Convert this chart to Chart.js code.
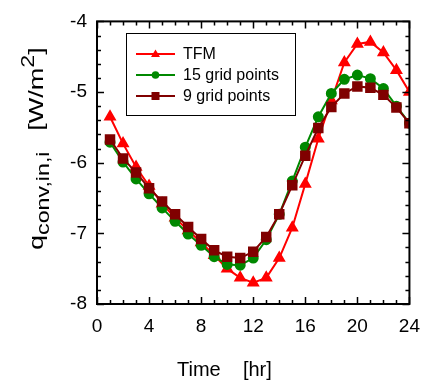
<!DOCTYPE html>
<html>
<head>
<meta charset="utf-8">
<script src="https://cdn.jsdelivr.net/npm/chart.js@4/dist/chart.umd.min.js"></script>
<style>
  body { margin: 0; background: #fff; }
  #wrap { width: 431px; height: 381px; }
</style>
</head>
<body>
<div id="wrap"><canvas id="myChart" width="431" height="381"></canvas></div>
<script>
// hours of the day
var hours = [1,2,3,4,5,6,7,8,9,10,11,12,13,14,15,16,17,18,19,20,21,22,23,24];
// series
var tfm = [-5.35,-5.73,-6.06,-6.33,-6.58,-6.78,-6.96,-7.13,-7.31,-7.50,-7.63,-7.70,
           -7.63,-7.35,-6.92,-6.30,-5.66,-5.12,-4.58,-4.32,-4.29,-4.44,-4.69,-5.00];
var grid15 = [-5.71,-5.99,-6.23,-6.44,-6.64,-6.83,-7.01,-7.17,-7.33,-7.44,-7.45,-7.35,
              -7.09,-6.73,-6.26,-5.78,-5.35,-5.02,-4.82,-4.76,-4.81,-4.95,-5.20,-5.44];
var grid9 = [-5.67,-5.94,-6.14,-6.36,-6.55,-6.73,-6.91,-7.08,-7.24,-7.33,-7.35,-7.26,
             -7.05,-6.73,-6.32,-5.90,-5.51,-5.21,-5.02,-4.92,-4.94,-5.04,-5.22,-5.44];
var seriesNames = ['TFM', '15 grid points', '9 grid points'];
var xTicks = [0, 4, 8, 12, 16, 20, 24];
var yTicks = [-8, -7, -6, -5, -4];

var FONT = "'Liberation Sans', Arial, sans-serif";

function pts(vals) {
    return hours.map(function(h, i) { return {x: h, y: vals[i]}; });
}

// ticks on all four sides, pointing in, plus the frame
var frameTicks = {
    id: 'frameTicks',
    afterDraw: function(chart) {
        var ctx = chart.ctx, a = chart.chartArea;
        var xs = chart.scales.x, ys = chart.scales.y;
        ctx.save();
        ctx.strokeStyle = '#000';
        ctx.lineWidth = 1.5;
        ctx.beginPath();
        for (var h = 0; h <= 24; h++) {
            var px = Math.round(xs.getPixelForValue(h)) + 0.5;
            var len = (h % 4 === 0) ? 7 : 4;
            ctx.moveTo(px, a.bottom); ctx.lineTo(px, a.bottom - len);
            ctx.moveTo(px, a.top); ctx.lineTo(px, a.top + len);
        }
        for (var k = 0; k <= 20; k++) {
            var v = -8 + k * 0.2;
            var py = Math.round(ys.getPixelForValue(v)) + 0.5;
            var l2 = (k % 5 === 0) ? 7 : 4;
            ctx.moveTo(a.left, py); ctx.lineTo(a.left + l2, py);
            ctx.moveTo(a.right, py); ctx.lineTo(a.right - l2, py);
        }
        ctx.stroke();
        ctx.lineWidth = 2;
        ctx.strokeRect(a.left, a.top, a.right - a.left, a.bottom - a.top);
        ctx.restore();
    }
};

// legend box inside the plot
var boxLegend = {
    id: 'boxLegend',
    afterDraw: function(chart) {
        var ctx = chart.ctx;
        ctx.save();
        ctx.fillStyle = '#fff';
        ctx.fillRect(126, 33, 169, 82);
        ctx.strokeStyle = '#000';
        ctx.lineWidth = 1;
        ctx.strokeRect(126.5, 33.5, 169, 82);
        var rows = [54, 75, 96];
        var ds = chart.data.datasets;
        for (var i = 0; i < ds.length; i++) {
            var y = rows[i];
            ctx.strokeStyle = ds[i].borderColor;
            ctx.fillStyle = ds[i].borderColor;
            ctx.lineWidth = 2;
            ctx.beginPath();
            ctx.moveTo(136, y); ctx.lineTo(175, y);
            ctx.stroke();
            ctx.beginPath();
            if (ds[i].pointStyle === 'triangle') {
                ctx.moveTo(155.5, y - 4.5); ctx.lineTo(160, y + 3); ctx.lineTo(151, y + 3);
                ctx.closePath();
            } else if (ds[i].pointStyle === 'circle') {
                ctx.arc(155.5, y, 3.8, 0, Math.PI * 2);
            } else {
                ctx.rect(151.5, y - 4, 8, 8);
            }
            ctx.fill();
            ctx.fillStyle = '#000';
            ctx.font = '16px ' + FONT;
            ctx.textBaseline = 'middle';
            ctx.textAlign = 'left';
            ctx.fillText(ds[i].label, 183, y + 1);
        }
        ctx.restore();
    }
};

// axis titles with sub and superscripts
var axisTitles = {
    id: 'axisTitles',
    afterDraw: function(chart) {
        var ctx = chart.ctx;
        ctx.save();
        ctx.fillStyle = '#000';
        ctx.textBaseline = 'alphabetic';
        ctx.textAlign = 'left';
        ctx.font = '20px ' + FONT;
        ctx.fillText('Time    [hr]', 177, 376);

        // y title is stretched along its length in the original
        ctx.translate(43, 250);
        ctx.rotate(-Math.PI / 2);
        ctx.scale(1.29, 1);
        var x = 0;
        ctx.font = '21px ' + FONT;
        ctx.fillText('q', x, 0); x += ctx.measureText('q').width;
        ctx.font = '18px ' + FONT;
        ctx.fillText('conv,in,i', x, 6); x += ctx.measureText('conv,in,i').width;
        x += 16;
        ctx.font = '21px ' + FONT;
        ctx.fillText('[W/m', x, 0); x += ctx.measureText('[W/m').width;
        ctx.font = '18px ' + FONT;
        ctx.fillText('2', x, -9); x += ctx.measureText('2').width;
        ctx.font = '21px ' + FONT;
        ctx.fillText(']', x, 0);
        ctx.restore();
    }
};

var chartdata = {
    datasets: [
        {
            label: seriesNames[0], data: pts(tfm), order: 3,
            borderColor: '#ff0000', backgroundColor: '#ff0000',
            pointStyle: 'triangle', pointRadius: 5.5, borderWidth: 2
        },
        {
            label: seriesNames[1], data: pts(grid15), order: 2,
            borderColor: '#008800', backgroundColor: '#008800',
            pointStyle: 'circle', pointRadius: 4.5, borderWidth: 2
        },
        {
            label: seriesNames[2], data: pts(grid9), order: 1,
            borderColor: '#800000', backgroundColor: '#800000',
            pointStyle: 'rect', pointRadius: 6, borderWidth: 2
        }
    ]
};

var options = {
    responsive: false,
    animation: false,
    layout: { padding: { top: 18, right: 14, left: 0, bottom: 0 } },
    plugins: { legend: { display: false }, tooltip: { enabled: false } },
    elements: { line: { tension: 0 }, point: { borderWidth: 0 } },
    scales: {
        x: {
            type: 'linear', min: 0, max: 24,
            afterFit: function(s) { s.height = 77; },
            afterBuildTicks: function(s) { s.ticks = xTicks.map(function(v) { return {value: v}; }); },
            grid: { display: false, drawTicks: false },
            border: { display: false },
            ticks: { color: '#000', padding: 11, maxRotation: 0, font: { size: 19, family: FONT } }
        },
        y: {
            type: 'linear', min: -8, max: -4,
            afterFit: function(s) { s.width = 97; },
            afterBuildTicks: function(s) { s.ticks = yTicks.map(function(v) { return {value: v}; }); },
            grid: { display: false, drawTicks: false },
            border: { display: false },
            ticks: { color: '#000', padding: 10, font: { size: 19, family: FONT } }
        }
    }
};

var graph = new Chart(document.getElementById('myChart'), {
    type: 'line',
    data: chartdata,
    options: options,
    plugins: [frameTicks, boxLegend, axisTitles]
});
</script>
</body>
</html>
